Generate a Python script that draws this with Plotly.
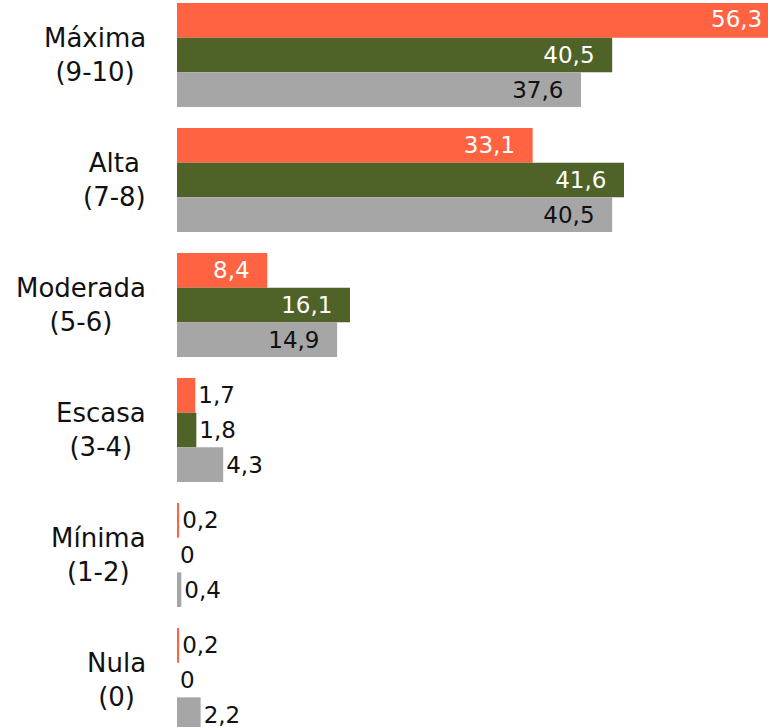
import plotly.graph_objects as go

categories = ["Máxima", "Alta", "Moderada", "Escasa", "Mínima", "Nula"]
category_labels = ["Máxima<br>(9-10)", "Alta<br>(7-8)", "Moderada<br>(5-6)",
                   "Escasa<br>(3-4)", "Mínima<br>(1-2)", "Nula<br>(0)"]
series_names = ["Serie 1", "Serie 2", "Serie 3"]
series_values = [
    [56.3, 33.1, 8.4, 1.7, 0.2, 0.2],
    [40.5, 41.6, 16.1, 1.8, 0.0, 0.0],
    [37.6, 40.5, 14.9, 4.3, 0.4, 2.2],
]
colors = ["#FF6342", "#4F6228", "#A6A6A6"]
inside_text_colors = ["#FFFFFF", "#FFFFFF", "#111111"]
INSIDE_MIN = 5.0
X_MAX = 55.0

FONT = "DejaVu Sans"

def fmt(v):
    s = f"{v:.1f}".replace(".", ",")
    if v == 0:
        s = "0"
    return s

fig = go.Figure()
for name, vals, col, tcol in zip(series_names, series_values, colors, inside_text_colors):
    texts = []
    positions = []
    tcolors = []
    for v, cat in zip(vals, categories):
        if v > X_MAX:
            texts.append("")
            positions.append("none")
            tcolors.append(tcol)
        elif v >= INSIDE_MIN:
            texts.append(fmt(v) + "\u00a0\u00a0")
            positions.append("inside")
            tcolors.append(tcol)
        else:
            texts.append(fmt(v))
            positions.append("outside")
            tcolors.append("#111111")
    fig.add_trace(go.Bar(
        y=categories, x=vals, name=name, orientation="h",
        marker=dict(color=col, line=dict(width=0)),
        text=texts, textposition=positions,
        insidetextanchor="end",
        textfont=dict(family=FONT, size=23, color=tcolors),
        constraintext="none",
        cliponaxis=False,
        hoverinfo="skip",
    ))

# labels for bars that overflow the visible axis: pinned at the axis end
n_series = len(series_values)
slot_px = 104 / n_series
for si, (vals, tcol) in enumerate(zip(series_values, inside_text_colors)):
    for v, cat in zip(vals, categories):
        if v > X_MAX:
            fig.add_annotation(
                x=X_MAX, xref="x", y=cat, yref="y",
                text=fmt(v), showarrow=False, xanchor="right", yanchor="middle",
                xshift=-4, yshift=(n_series - 1) / 2 * slot_px - si * slot_px + 1,
                font=dict(family=FONT, size=23, color=tcol),
            )

for cat, lab in zip(categories, category_labels):
    fig.add_annotation(
        x=0, xref="paper", y=cat, yref="y",
        text=lab, showarrow=False, xanchor="right", yanchor="middle",
        xshift=-29, align="center",
        font=dict(family=FONT, size=26, color="#111111"),
    )

fig.update_layout(
    width=768, height=727,
    margin=dict(l=177, r=0, t=0, b=0),
    barmode="group", bargap=0.168, bargroupgap=0,
    showlegend=False,
    plot_bgcolor="white", paper_bgcolor="white",
    xaxis=dict(range=[0, X_MAX], visible=False, showgrid=False, zeroline=False),
    yaxis=dict(range=[5.376, -0.44], showticklabels=False, showgrid=False,
               zeroline=False, showline=False, ticks=""),
)

fig.write_html(
    "out.html",
    config={"displayModeBar": False},
    post_script="document.body.style.margin='0';document.body.style.overflow='hidden';",
)
